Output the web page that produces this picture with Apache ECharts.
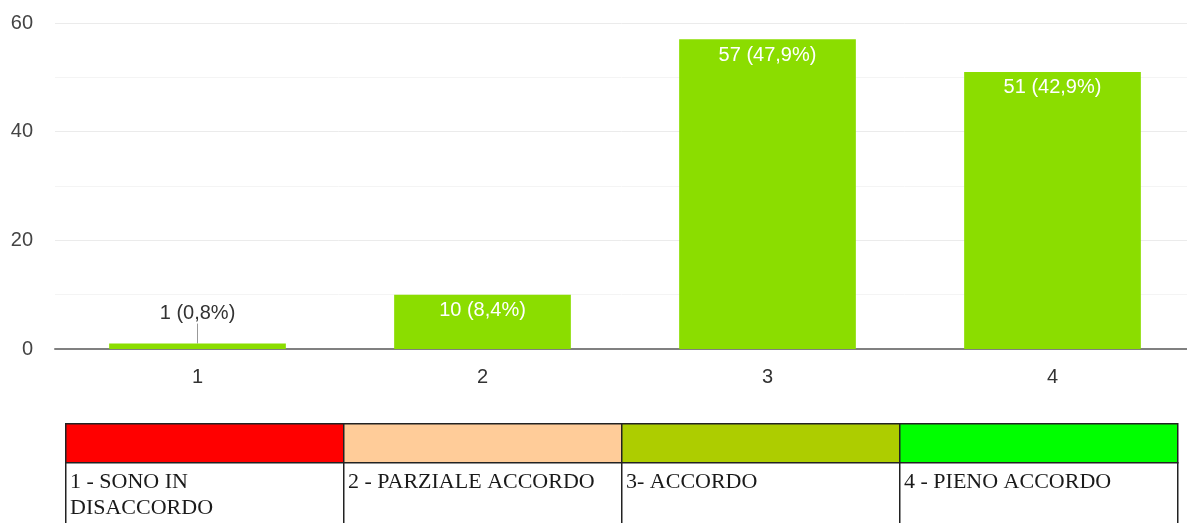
<!DOCTYPE html>
<html lang="it">
<head>
    <meta charset="UTF-8">
    <title>Risposte</title>
    <script src="https://cdn.jsdelivr.net/npm/echarts@6/dist/echarts.min.js"></script>
    <style>
        html, body { margin: 0; padding: 0; background: #fff; }
    </style>
</head>
<body>
    <div id="chart_div" style="width: 1187px; height: 523px;"></div>
</body>
    <script type="text/javascript">

       var categories = ['1', '2', '3', '4'];
       var values = [1, 10, 57, 51];
       var yTicks = [0, 20, 40, 60];
       var legendLabels = [['1 - SONO IN', 'DISACCORDO'], ['2 - PARZIALE ACCORDO'], ['3- ACCORDO'], ['4 - PIENO ACCORDO']];
       var legendColors = ['#ff0000', '#ffcc99', '#adcd00', '#00ff00'];

       var total = values.reduce(function (a, b) { return a + b; }, 0);

       function pct(v) {
           return (v / total * 100).toFixed(1).replace('.', ',');
       }

       var barData = values.map(function (v, i) {
           if (i === 0) {
               return {
                   value: v,
                   label: { position: 'top', color: '#333', distance: 3 },
                   labelLine: { show: true, lineStyle: { color: '#999', width: 1 } }
               };
           }
           return { value: v };
       });

       // tabella della legenda sotto il grafico
       var tLeft = 65, tTop = 423, colW = 278, headH = 39;
       var graphics = [];
       for (var i = 0; i < legendColors.length; i++) {
           graphics.push({
               type: 'rect',
               left: tLeft + i * colW, top: tTop,
               shape: { width: colW, height: headH },
               style: { fill: legendColors[i], stroke: '#222', lineWidth: 1.5 }
           });
           graphics.push({
               type: 'rect',
               left: tLeft + i * colW, top: tTop + headH,
               shape: { width: colW, height: 80 },
               style: { fill: '#fff', stroke: '#222', lineWidth: 1.5 }
           });
           graphics.push({
               type: 'text',
               left: tLeft + i * colW + 5, top: tTop + headH + 7,
               style: {
                   text: legendLabels[i].join('\n'),
                   font: '22px "Liberation Serif", serif',
                   fill: '#1a1a1a',
                   lineHeight: 26
               }
           });
       }

       var chart = echarts.init(document.getElementById("chart_div"));
       var options = {
            animation: false,
            grid: { left: 55, right: -8, top: 23, bottom: 174, outerBoundsMode: 'none', containLabel: false },
            xAxis: {
                type: 'category',
                data: categories,
                axisTick: { show: false },
                axisLine: { lineStyle: { color: '#808080', width: 2 } },
                axisLabel: { fontSize: 20, color: '#333', margin: 18, fontFamily: 'Arial' }
            },
            yAxis: {
                type: 'value',
                min: yTicks[0],
                max: yTicks[yTicks.length - 1],
                interval: 20,
                axisLabel: { fontSize: 20, color: '#444', margin: 22, fontFamily: 'Arial' },
                splitLine: { lineStyle: { color: '#ebebeb', width: 1 } },
                minorTick: { show: false, splitNumber: 2 },
                minorSplitLine: { show: true, lineStyle: { color: '#f4f4f4', width: 1 } }
            },
            series: [
                {
                    type: 'bar',
                    data: barData,
                    barWidth: '62%',
                    itemStyle: { color: '#8bdd00' },
                    label: {
                        show: true,
                        position: 'insideTop',
                        distance: 6,
                        color: '#fff',
                        fontSize: 20,
                        fontFamily: 'Arial',
                        formatter: function (p) {
                            return p.value + ' (' + pct(p.value) + '%)';
                        }
                    },
                    labelLayout: function (params) {
                        if (params.dataIndex === 0) {
                            return { dy: -17 };
                        }
                    }
                }
            ],
            graphic: graphics
       };

       chart.setOption(options);

    </script>
</html>
